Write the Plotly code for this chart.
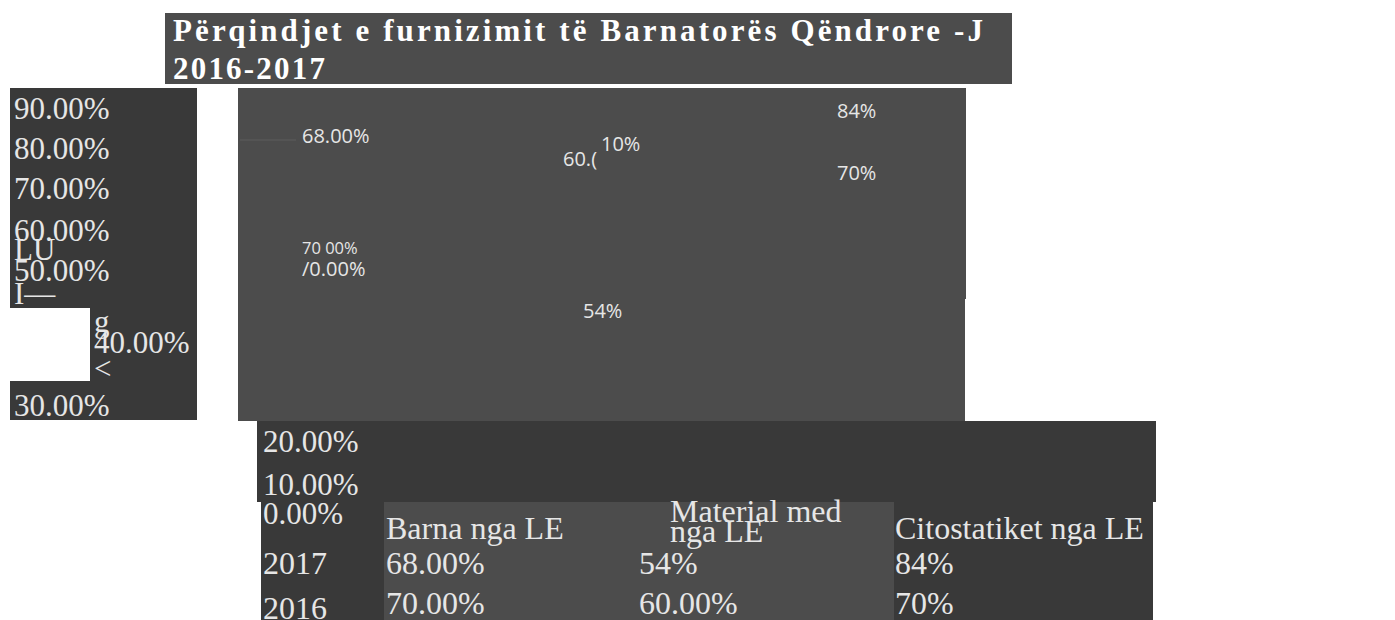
import plotly.graph_objects as go

# ---- data ----
title_lines = ["Përqindjet e furnizimit të Barnatorës Qëndrore -J", "2016-2017"]
categories = ["Barna nga LE", "Material med nga LE", "Citostatiket nga LE"]
years = ["2017", "2016"]
values_2017 = ["68.00%", "54%", "84%"]
values_2016 = ["70.00%", "60.00%", "70%"]
tick_labels = ["90.00%", "80.00%", "70.00%", "60.00%", "50.00%",
               "40.00%", "30.00%", "20.00%", "10.00%", "0.00%"]
axis_title_fragments = ["LU", "I—", "g", "<"]
# data labels as they appear inside the plot panel
panel_labels = ["68.00%", "60.(", "10%", "84%", "70%", "70 00%", "/0.00%", "54%"]

DARK = "#393939"
MID = "#4c4c4c"
TXT = "#e6e6e6"
SERIF = "Liberation Serif, Times New Roman, serif"
SANS = "Open Sans, Noto Sans, sans-serif"

# the page body has an 8px margin; map page pixels onto the axes
OFF = 8
W, H = 1395, 620

fig = go.Figure()

shapes = []
def rect(x0, y0, x1, y1, color):
    shapes.append(dict(type="rect", xref="x", yref="y", x0=x0, y0=y0, x1=x1, y1=y1,
                       fillcolor=color, line=dict(width=0), layer="below"))

# background boxes
rect(165, 13, 1012, 84, MID)       # title box
rect(10, 88, 197, 420, DARK)       # y tick label box
rect(10, 308, 90, 381, "#ffffff")  # white notch
rect(238, 88, 966, 299, MID)       # plot panel (upper)
rect(238, 299, 965, 421, MID)      # plot panel (lower)
rect(257, 421, 1156, 502, DARK)    # 20/10% box
rect(261, 502, 384, 640, DARK)     # year column
rect(384, 502, 894, 640, MID)      # middle table cells
rect(894, 502, 1153, 640, DARK)    # right table cells
shapes.append(dict(type="line", xref="x", yref="y", x0=240, x1=296, y0=140, y1=140,
                   line=dict(color="#5c5c5c", width=1), layer="below"))

ann = []
def text(x, y, s, size, family=SERIF, color=TXT, weight="normal"):
    ann.append(dict(x=x, y=y, xref="x", yref="y", text=s, showarrow=False,
                    xanchor="left", yanchor="middle", align="left",
                    font=dict(family=family, size=size, color=color, weight=weight)))

# title
text(171, 30, title_lines[0], 31, color="#ffffff", weight="bold")
text(171, 68, title_lines[1], 31, color="#ffffff", weight="bold")

# y tick labels (as rendered)
tick_pos = [(12, 108), (12, 148), (12, 188), (12, 230), (12, 270),
            (92, 342), (12, 405), (261, 441), (261, 484), (261, 513)]
for (x, y), s in zip(tick_pos, tick_labels):
    text(x, y, s, 31)
frag_pos = [(12, 249), (12, 293), (92, 321), (92, 368)]
for (x, y), s in zip(frag_pos, axis_title_fragments):
    text(x, y, s, 31)

# panel labels
panel_pos = [(300, 135, 20), (561, 158, 20), (599, 143, 20), (835, 110, 20),
             (835, 172, 20), (300, 247, 16.5), (300, 268, 20), (581, 310, 20)]
for (x, y, sz), s in zip(panel_pos, panel_labels):
    text(x, y, s, sz, family=SANS)

# table
col_x = [384, 637, 893]
for i, c in enumerate(categories):
    if i == 1:
        words = c.split(" ")
        text(col_x[i] + 31, 511, " ".join(words[:2]), 32)
        text(col_x[i] + 31, 531, " ".join(words[2:]), 32)
    else:
        text(col_x[i], 528, c, 32)
row_y = [563, 603]
text(261, row_y[0], years[0], 32)
text(261, row_y[1] + 5, years[1], 32)
for i in range(3):
    text(col_x[i], row_y[0], values_2017[i], 32)
    text(col_x[i], row_y[1], values_2016[i], 32)

fig.update_layout(
    width=W - OFF, height=H - OFF,
    margin=dict(l=0, r=0, t=0, b=0),
    paper_bgcolor="#ffffff", plot_bgcolor="#ffffff",
    xaxis=dict(range=[OFF, W], visible=False, fixedrange=True),
    yaxis=dict(range=[H, OFF], visible=False, fixedrange=True),
    shapes=shapes, annotations=ann, showlegend=False,
)

post = """
document.querySelectorAll('.annotation-text').forEach(function(t){
  var s = t.textContent;
  if (s.indexOf('Përqindjet') === 0) { t.style.letterSpacing = '3.1px'; }
  if (s === '2016-2017') { t.style.letterSpacing = '2.2px'; }
});
"""
fig.write_html("out.html", post_script=post, config={"displayModeBar": False})
